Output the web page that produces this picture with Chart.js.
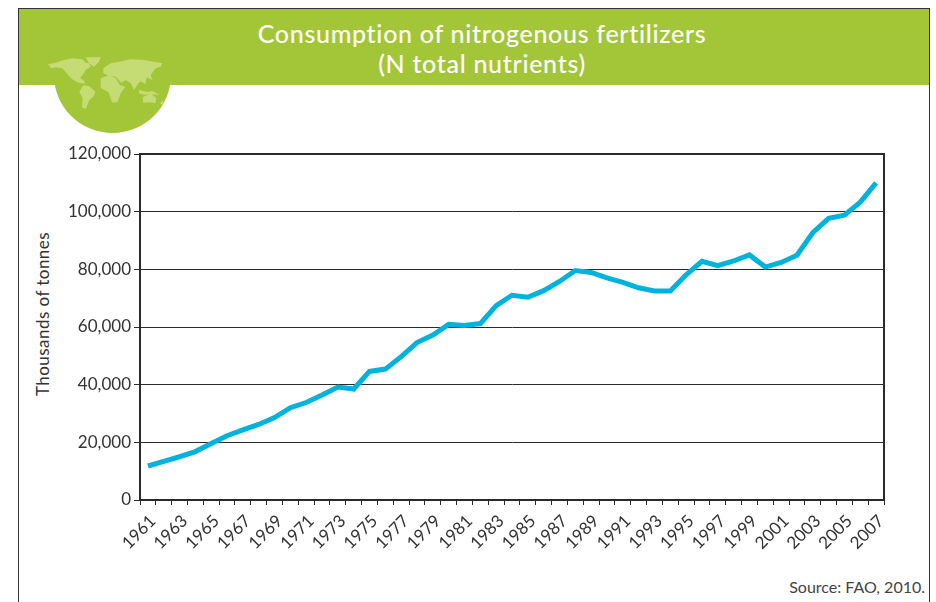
<!DOCTYPE html>
<html>
<head>
<meta charset="utf-8">
<title>Consumption of nitrogenous fertilizers</title>
<script src="https://cdn.jsdelivr.net/npm/chart.js@4"></script>
<style>
    html, body { margin: 0; padding: 0; background: #fff; overflow: hidden; }
    body { width: 936px; height: 602px; position: relative; font-family: Lato, sans-serif; }
    .frame { position: absolute; left: 18px; top: 8px; width: 912px; height: 600px; border: 1.5px solid #333; box-sizing: border-box; }
    .band { position: absolute; left: 19px; top: 9px; width: 910px; height: 76px; background: #a3c639; }
    .globe { position: absolute; left: 54px; top: 17px; width: 117px; height: 116px; border-radius: 50%; background: #a3c639; }
    .map { position: absolute; left: 44px; top: 50px; }
    .title { position: absolute; left: 27px; top: 18px; width: 910px; text-align: center; color: #fff; font-size: 25px; letter-spacing: 0.7px; font-variant-ligatures: none; line-height: 30px; font-weight: 500; }
    .source { position: absolute; right: 11px; top: 577px; font-size: 16px; color: #444; font-variant-ligatures: none; }
    .ytitle { position: absolute; left: 42px; top: 314px; transform: translate(-50%, -50%) rotate(-90deg); white-space: nowrap; font-size: 17px; letter-spacing: 0.45px; color: #333; font-variant-ligatures: none; }
    #grafik { position: absolute; left: 0; top: 0; }
</style>
</head>
<body>
    <div class="frame"></div>
    <div class="globe"></div>
    <div class="band"></div>
    <svg class="map" width="130" height="70" viewBox="0 0 390 210">
        <g fill="#c5dc75">
            <path d="M12,42 L30,40 L60,30 L85,25 L115,28 L125,38 L135,40 L140,50 L125,60 L118,72 L108,85 L115,88 L125,100 L113,100 L100,97 L85,88 L70,72 L55,55 L35,52 L22,55 Z" />
            <path d="M125,22 L170,22 L165,35 L150,50 L135,40 Z" />
            <path d="M118,106 L135,108 L154,125 L150,137 L135,152 L125,177 L114,172 L116,145 L106,125 Z" />
            <path d="M178,70 L178,55 L200,40 L225,35 L260,28 L300,30 L355,40 L350,50 L335,55 L320,75 L325,90 L308,82 L304,102 L290,94 L283,100 L270,120 L260,100 L245,90 L232,98 L215,80 L195,78 Z" />
            <path d="M170,85 L195,76 L215,85 L228,106 L244,110 L230,130 L220,157 L204,157 L194,127 L170,114 Z" />
            <path d="M296,142 L320,130 L337,145 L334,160 L318,157 L298,158 Z" />
            <path d="M285,120 L310,126 L325,123 L347,135 L320,132 L300,134 L285,130 Z" />
            <path d="M348,160 L358,150 L356,166 Z" />
        </g>
    </svg>
    <div class="title">Consumption of nitrogenous fertilizers<br>(N total nutrients)</div>
    <div class="ytitle">Thousands of tonnes</div>
    <div class="source">Source: FAO, 2010.</div>
    <canvas id="grafik" width="936" height="602"></canvas>

<script>
// Data grafik
var years = ["1961", "1962", "1963", "1964", "1965", "1966", "1967", "1968", "1969", "1970",
    "1971", "1972", "1973", "1974", "1975", "1976", "1977", "1978", "1979", "1980",
    "1981", "1982", "1983", "1984", "1985", "1986", "1987", "1988", "1989", "1990",
    "1991", "1992", "1993", "1994", "1995", "1996", "1997", "1998", "1999", "2000",
    "2001", "2002", "2003", "2004", "2005", "2006", "2007"];

var consumption = [11800, 13400, 15000, 16800, 19600, 22300, 24300, 26200, 28600, 32000,
    33800, 36400, 39200, 38500, 44600, 45400, 49700, 54600, 57200, 60900,
    60500, 61200, 67400, 71000, 70300, 72600, 75800, 79600, 78900, 77000,
    75500, 73600, 72500, 72500, 78100, 82800, 81300, 82900, 85000, 80800,
    82400, 84900, 92700, 97700, 98800, 103300, 110000];

var yTicks = [0, 20000, 40000, 60000, 80000, 100000, 120000];

var textColor = "#333";
var lineColor = "#2b2b2b";

// kotak plot, atas dan kanan tidak digambar oleh axis
var plotBox = {
    id: "plotBox",
    afterDatasetsDraw: function (chart) {
        var a = chart.chartArea;
        var ctx = chart.ctx;
        ctx.save();
        ctx.strokeStyle = lineColor;
        ctx.lineWidth = 2;
        ctx.strokeRect(a.left, a.top, a.right - a.left, a.bottom - a.top);
        ctx.restore();
    }
};

var ctx = document.getElementById("grafik").getContext("2d");
var chart = new Chart(ctx, {
    type: "line",
    data: {
        labels: years,
        datasets: [{
            data: consumption,
            borderColor: "#00b3dc",
            borderWidth: 5,
            pointRadius: 0,
            tension: 0,
            fill: false
        }]
    },
    options: {
        responsive: false,
        animation: false,
        layout: { padding: { left: 33, top: 154, right: 52, bottom: 0 } },
        plugins: { legend: { display: false }, tooltip: { enabled: false } },
        scales: {
            x: {
                offset: true,
                grid: { offset: true, drawOnChartArea: false, color: lineColor, tickLength: 5 },
                border: { color: lineColor, width: 2 },
                afterFit: function (scale) { scale.height = 102; },
                ticks: {
                    autoSkip: false,
                    minRotation: 45,
                    maxRotation: 45,
                    color: textColor,
                    padding: 6,
                    labelOffset: 5,
                    font: { family: "Lato", size: 17 },
                    callback: function (value, index) {
                        return index % 2 === 0 ? years[index] : "";
                    }
                }
            },
            y: {
                min: 0,
                max: 120000,
                afterFit: function (scale) { scale.width = 107; },
                afterBuildTicks: function (scale) {
                    scale.ticks = yTicks.map(function (v) { return { value: v }; });
                },
                grid: { color: lineColor, lineWidth: 1, tickLength: 6 },
                border: { color: lineColor, width: 2 },
                ticks: {
                    color: textColor,
                    padding: 3,
                    font: { family: "Lato", size: 17 },
                    callback: function (value) { return value.toLocaleString("en-US"); }
                }
            }
        }
    },
    plugins: [plotBox]
});
</script>
</body>
</html>
